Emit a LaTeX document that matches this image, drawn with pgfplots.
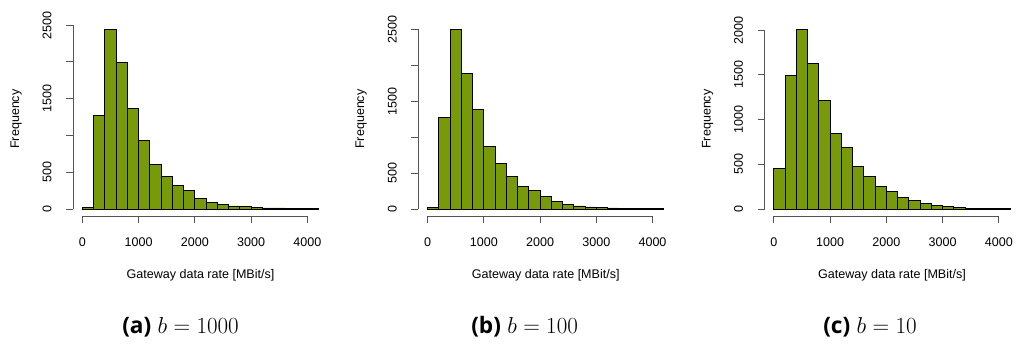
\documentclass[border=0pt]{standalone}
\usepackage{pgfplots}
\pgfplotsset{compat=1.18}
\usepackage{fontspec}
\setmainfont{Liberation Sans}
\newfontfamily\capfont{Open Sans}
\definecolor{barfill}{RGB}{120,154,10}
\definecolor{axgray}{RGB}{85,85,85}
\pgfplotstableread{
x y
0 23
200 1273
400 2446
600 1988
800 1372
1000 937
1200 602
1400 448
1600 317
1800 254
2000 145
2200 95
2400 63
2600 41
2800 36
3000 23
3200 14
3400 14
3600 9
3800 9
4000 8
4200 0
}\dataA
\pgfplotstableread{
x y
0 23
200 1273
400 2500
600 1884
800 1389
1000 866
1200 634
1400 458
1600 319
1800 255
2000 176
2200 106
2400 69
2600 42
2800 28
3000 18
3200 14
3400 10
3600 6
3800 2
4000 1
4200 0
}\dataB
\pgfplotstableread{
x y
0 448
200 1489
400 2011
600 1631
800 1213
1000 847
1200 687
1400 474
1600 369
1800 254
2000 201
2200 134
2400 90
2600 60
2800 41
3000 26
3200 19
3400 11
3600 7
3800 4
4000 2
4200 0
}\dataC
\pgfplotsset{
  rhist/.style={
    scale only axis, width=191.25pt, height=145.65pt, anchor=south west,
    xmin=-168, xmax=4368,
    axis lines*=left, axis line style={draw=none},
    tick align=outside, major tick length=5.25pt,
    tick style={axgray, line width=0.75pt},
    xtick={0,1000,2000,3000,4000}, xticklabels={0,1000,2000,3000,4000},
    /pgf/number format/assume math mode=true,
    ticklabel style={font=\fontsize{9.4}{11}\selectfont},
    label style={font=\fontsize{9.4}{11}\selectfont},
    xticklabel style={anchor=center, yshift=-14.25pt},
    yticklabel style={rotate=90, anchor=center, yshift=14.25pt},
    xlabel={Gateway data rate [MBit/s]}, ylabel={Frequency},
    xlabel style={at={(axis description cs:0.5,0)}, anchor=center, yshift=-44.25pt},
    ylabel style={at={(axis description cs:0,0.5)}, anchor=center, yshift=42.75pt},
    clip=false,
  },
  rbar/.style={ybar interval, fill=barfill, draw=black, line width=0.7pt},
}
\begin{document}
\begin{tikzpicture}
\useasboundingbox (0,0) rectangle (762pt,258.75pt);
% (a)
\begin{axis}[rhist, at={(54.75pt,96.6pt)}, ymin=-97.84, ymax=2543.84,
  ytick={0,500,1000,1500,2000,2500}, yticklabels={0,500,,1500,,2500}]
\addplot[rbar] table[x=x,y=y] {\dataA};
\draw[axgray, line width=0.75pt] (axis cs:0,-97.84) -- (axis cs:4000,-97.84);
\draw[axgray, line width=0.75pt] (axis cs:-168,0) -- (axis cs:-168,2500);
\end{axis}
% (b)
\begin{axis}[rhist, at={(313.65pt,96.6pt)}, ymin=-100, ymax=2600,
  ytick={0,500,1000,1500,2000,2500}, yticklabels={0,500,,1500,,2500}]
\addplot[rbar] table[x=x,y=y] {\dataB};
\draw[axgray, line width=0.75pt] (axis cs:0,-100) -- (axis cs:4000,-100);
\draw[axgray, line width=0.75pt] (axis cs:-168,0) -- (axis cs:-168,2500);
\end{axis}
% (c)
\begin{axis}[rhist, at={(573.375pt,96.6pt)}, ymin=-80.44, ymax=2091.44,
  ytick={0,500,1000,1500,2000}, yticklabels={0,500,1000,1500,2000}]
\addplot[rbar] table[x=x,y=y] {\dataC};
\draw[axgray, line width=0.75pt] (axis cs:0,-80.44) -- (axis cs:4000,-80.44);
\draw[axgray, line width=0.75pt] (axis cs:-168,0) -- (axis cs:-168,2000);
\end{axis}
% captions
\node[anchor=west, inner sep=0pt, font=\fontsize{17}{20}\selectfont] at (91.5pt,13.5pt) {{\capfont\bfseries (a)} $b = 1000$};
\node[anchor=west, inner sep=0pt, font=\fontsize{17}{20}\selectfont] at (353.25pt,13.5pt) {{\capfont\bfseries (b)} $b = 100$};
\node[anchor=west, inner sep=0pt, font=\fontsize{17}{20}\selectfont] at (617.25pt,13.5pt) {{\capfont\bfseries (c)} $b = 10$};
\end{tikzpicture}
\end{document}
